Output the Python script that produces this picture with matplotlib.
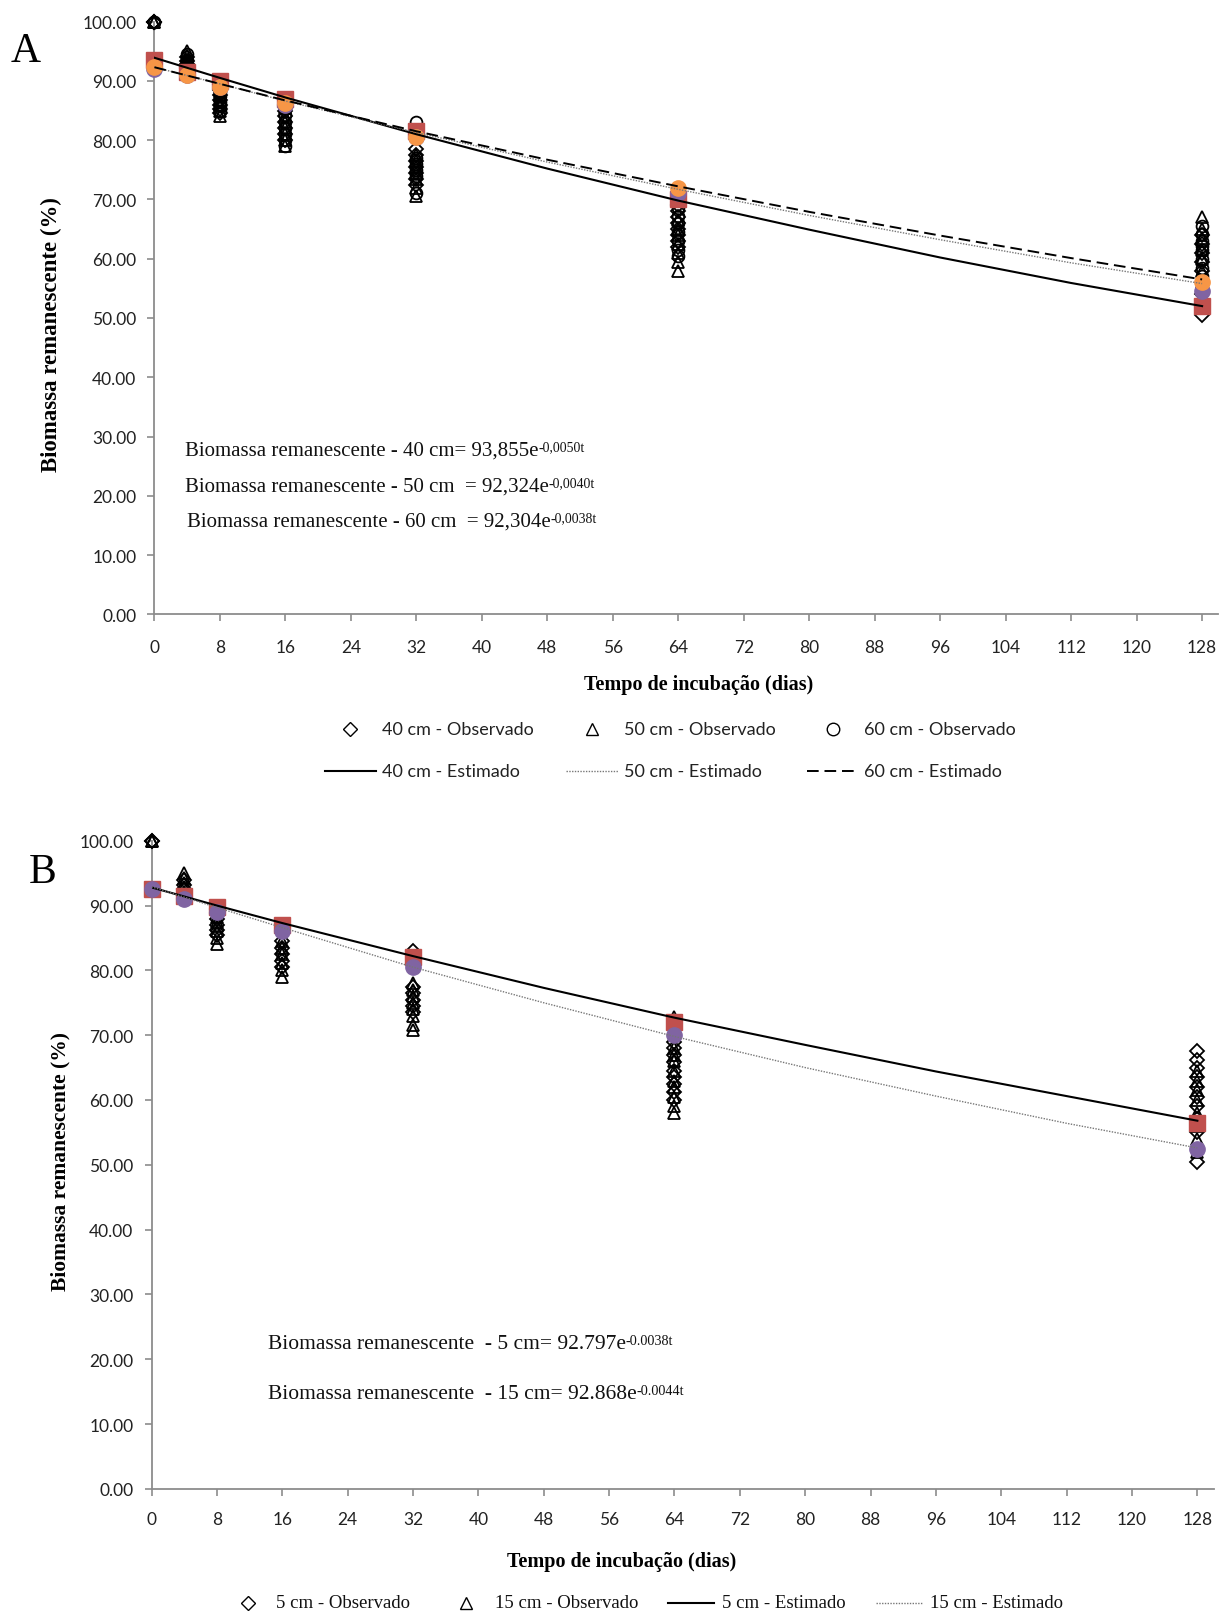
import matplotlib
matplotlib.use("Agg")
import matplotlib.pyplot as plt
from matplotlib.lines import Line2D

# ---------------- data ----------------
times = [0, 4, 8, 16, 32, 64, 128]
fit_t = [0, 4, 8, 16, 32, 48, 64, 80, 96, 112, 128]

# Panel A observations (per time point)
obs40_A = [[100, 100, 100],
           [91.5, 92.2, 92.8, 93.4, 94.0],
           [84.5, 85.3, 86.0, 86.8, 87.6, 88.5, 89.5],
           [80.0, 81.0, 82.0, 83.0, 84.0, 85.0, 86.0],
           [72.5, 73.5, 74.5, 75.5, 76.5, 77.5, 78.5],
           [62.0, 63.0, 64.0, 65.0, 66.0, 67.0, 68.0, 69.0],
           [50.5, 54.0, 58.0, 59.5, 61.0, 62.5, 64.0]]
obs50_A = [[100, 100],
           [92.0, 92.8, 93.5, 94.2, 95.0],
           [84.0, 85.0, 86.0, 86.8, 87.5, 88.2, 89.0],
           [79.0, 80.0, 81.0, 82.0, 83.0, 84.0, 85.5],
           [70.5, 72.0, 73.5, 74.5, 75.5, 76.5, 77.5],
           [58.0, 59.5, 61.0, 62.5, 64.0, 65.0, 66.5],
           [52.0, 56.0, 58.0, 60.0, 61.5, 63.5, 65.0, 67.0]]
obs60_A = [[100, 100],
           [91.0, 92.0, 92.8, 93.5, 94.5],
           [85.0, 85.8, 86.5, 87.5, 88.2, 89.0],
           [79.0, 80.0, 81.0, 82.0, 83.0, 84.2, 85.5],
           [71.0, 74.0, 75.0, 76.0, 77.0, 83.0],
           [60.5, 61.5, 63.0, 64.5, 66.0, 67.2, 68.5, 70.0, 72.0],
           [55.0, 57.0, 58.5, 60.0, 61.5, 62.2, 63.0, 64.2, 65.5]]
mean40_A = [93.5, 91.5, 90.0, 87.0, 81.5, 70.0, 52.0]
mean50_A = [92.0, 91.0, 89.0, 86.0, 80.5, 71.0, 54.5]
mean60_A = [92.3, 91.0, 89.0, 86.2, 80.5, 72.0, 56.0]
est40_A = [93.9, 92.2, 90.5, 87.2, 81.0, 75.2, 69.8, 64.9, 60.2, 55.9, 52.0]
est50_A = [92.3, 90.9, 89.5, 86.6, 81.3, 76.3, 71.7, 67.3, 63.2, 59.3, 55.8]
est60_A = [92.3, 90.9, 89.5, 86.7, 81.5, 76.7, 72.2, 67.9, 63.9, 60.1, 56.5]

# Panel B observations
obs5_B = [[100, 100],
          [91.0, 91.8, 92.5, 93.2, 94.0],
          [85.5, 86.3, 87.0, 88.0, 88.8, 89.5],
          [80.5, 81.5, 82.5, 83.5, 84.5, 86.0],
          [73.5, 74.5, 75.5, 76.5, 77.5, 83.0],
          [60.0, 61.3, 62.5, 63.5, 64.5, 65.8, 67.0, 68.0, 69.0],
          [50.5, 55.0, 57.0, 59.0, 60.5, 62.0, 63.5, 65.0, 66.2, 67.5]]
obs15_B = [[100, 100],
           [92.0, 92.8, 93.5, 94.2, 95.0],
           [84.0, 85.0, 86.0, 86.8, 87.5, 88.3],
           [79.0, 80.0, 81.2, 82.5, 83.5, 84.5],
           [70.8, 71.5, 73.0, 74.0, 75.0, 76.0, 77.0, 78.0],
           [58.0, 59.0, 60.5, 62.0, 63.0, 64.5, 66.0, 67.0, 68.0, 72.8],
           [52.0, 54.0, 56.0, 58.0, 60.0, 61.5, 63.0, 64.5]]
mean5_B = [92.5, 91.5, 89.8, 87.0, 82.0, 72.0, 56.5]
mean15_B = [92.5, 91.0, 89.0, 86.0, 80.5, 70.0, 52.5]
est5_B = [92.8, 91.4, 90.0, 87.3, 82.2, 77.3, 72.7, 68.5, 64.4, 60.6, 56.8]
est15_B = [92.9, 91.3, 89.7, 86.6, 80.5, 75.0, 69.8, 65.0, 60.6, 56.4, 52.6]

xticks = list(range(0, 129, 8))
yticks = list(range(0, 101, 10))

eqA = [("Biomassa remanescente - 40 cm= 93,855e", "-0,0050t"),
       ("Biomassa remanescente - 50 cm  = 92,324e", "-0,0040t"),
       ("Biomassa remanescente - 60 cm  = 92,304e", "-0,0038t")]
eqB = [("Biomassa remanescente  - 5 cm= 92.797e", "-0.0038t"),
       ("Biomassa remanescente  - 15 cm= 92.868e", "-0.0044t")]

# ---------------- style ----------------
RED = "#C0504D"
ORANGE = "#F79646"
PURPLE = "#8064A2"
GREY = "#8C8C8C"
TICKFONT = "Lato"
SERIF = "Liberation Serif"

W, H = 1223, 1615
fig = plt.figure(figsize=(W / 100, H / 100), dpi=100)


def fx(px):
    return px / W


def fy(py):
    return 1 - py / H


def style_axes(ax, xpad):
    ax.set_xlim(0, 130)
    ax.set_ylim(0, 100)
    for s in ["top", "right"]:
        ax.spines[s].set_visible(False)
    for s in ["left", "bottom"]:
        ax.spines[s].set_color(GREY)
        ax.spines[s].set_linewidth(1.3)
    ax.set_xticks(xticks)
    ax.set_yticks(yticks)
    ax.set_yticklabels([f"{v:.2f}" for v in yticks])
    ax.tick_params(axis="both", direction="out", length=5, width=1.2, color=GREY,
                   labelsize=12.5)
    ax.tick_params(axis="x", pad=xpad)
    ax.tick_params(axis="y", pad=8)
    for lab in ax.get_xticklabels() + ax.get_yticklabels():
        lab.set_family(TICKFONT)
        lab.set_color("#222222")


def plot_obs(ax, obs, marker, ms):
    for t, vals in zip(times, obs):
        ax.plot([t] * len(vals), vals, linestyle="none", marker=marker, ms=ms,
                mfc="none", mec="black", mew=1.3, zorder=3, clip_on=False)


def plot_mean(ax, vals, marker, color, ms):
    ax.plot(times, vals, linestyle="none", marker=marker, ms=ms, mfc=color,
            mec=color, zorder=4, clip_on=False)


def add_eq(ax, x, y, main, sup, size):
    t = fig.text(x, y, main, family=SERIF, fontsize=size, va="center", ha="left",
                 color="#111111")
    ax.annotate(sup, xy=(1.0, 1.0), xycoords=t, va="top", ha="left",
                family=SERIF, fontsize=size * 0.66, color="#111111",
                annotation_clip=False)


# ================= Panel A =================
axA = fig.add_axes([0.1263, 0.619, 0.870, 0.367])
style_axes(axA, 13)
plot_mean(axA, mean40_A, "s", RED, 11)
plot_obs(axA, obs40_A, "D", 7)
plot_obs(axA, obs50_A, "^", 8.5)
plot_obs(axA, obs60_A, "o", 8.5)
plot_mean(axA, mean50_A, "o", PURPLE, 11)
plot_mean(axA, mean60_A, "o", ORANGE, 11)
axA.plot(fit_t, est40_A, color="black", lw=1.5, zorder=5)
axA.plot(fit_t, est50_A, color="#777777", lw=1.0, ls=(0, (1, 1)), zorder=5)
axA.plot(fit_t, est60_A, color="black", lw=1.4, ls=(0, (6, 3)), zorder=5)

fig.text(fx(51), fy(335), "Biomassa remanescente (%)", rotation=90, family=SERIF,
         fontweight="bold", fontsize=16.5, ha="center", va="center")
fig.text(fx(699), fy(685), "Tempo de incubação (dias)", family=SERIF,
         fontweight="bold", fontsize=14.5, ha="center", va="center")
fig.text(fx(26), fy(52), "A", family=SERIF, fontsize=30, ha="center", va="center")

for (main, sup), (px, py) in zip(eqA, [(185, 451), (185, 487), (187, 522)]):
    add_eq(axA, fx(px), fy(py), main, sup, 15)

# legend A (manual)
LEGF = "Lato"
legA_rows = [
    [("marker", "D", 350, "40 cm - Observado", 382),
     ("marker", "^", 592, "50 cm - Observado", 624),
     ("marker", "o", 833, "60 cm - Observado", 864)],
    [("line", "-", (325, 376), "40 cm - Estimado", 382),
     ("line", ":", (566, 618), "50 cm - Estimado", 624),
     ("line", "--", (807, 855), "60 cm - Estimado", 864)],
]
for row, py in zip(legA_rows, [730, 772]):
    for kind, st, pos, label, tx in row:
        if kind == "marker":
            ms = 7 if st == "D" else 9
            fig.add_artist(Line2D([fx(pos)], [fy(py)], marker=st, ms=ms, mfc="none",
                                  mec="black", mew=1.0, linestyle="none",
                                  transform=fig.transFigure))
        else:
            if st == "-":
                kw = dict(color="black", lw=1.5)
            elif st == ":":
                kw = dict(color="#777777", lw=1.0, ls=(0, (1, 1)))
            else:
                kw = dict(color="black", lw=1.4, ls=(0, (6, 3)))
            fig.add_artist(Line2D([fx(pos[0]), fx(pos[1])], [fy(py), fy(py)],
                                  transform=fig.transFigure, **kw))
        fig.text(fx(tx), fy(py), label, family=LEGF, fontsize=13, va="center",
                 ha="left", color="#222222")

# ================= Panel B =================
axB = fig.add_axes([0.1239, 0.0775, 0.8685, 0.4013])
style_axes(axB, 11)
plot_mean(axB, mean5_B, "s", RED, 11)
plot_obs(axB, obs5_B, "D", 7)
plot_obs(axB, obs15_B, "^", 8.5)
plot_mean(axB, mean15_B, "o", PURPLE, 11)
axB.plot(fit_t, est5_B, color="black", lw=1.5, zorder=5)
axB.plot(fit_t, est15_B, color="#777777", lw=1.0, ls=(0, (1, 1)), zorder=5)

fig.text(fx(60), fy(1162), "Biomassa remanescente (%)", rotation=90, family=SERIF,
         fontweight="bold", fontsize=15.5, ha="center", va="center")
fig.text(fx(622), fy(1562), "Tempo de incubação (dias)", family=SERIF,
         fontweight="bold", fontsize=14.5, ha="center", va="center")
fig.text(fx(43), fy(873), "B", family=SERIF, fontsize=30, ha="center", va="center")

for (main, sup), (px, py) in zip(eqB, [(268, 1345), (268, 1395)]):
    add_eq(axB, fx(px), fy(py), main, sup, 15.5)

legB = [("marker", "D", 248, "5 cm - Observado", 276),
        ("marker", "^", 466, "15 cm - Observado", 495),
        ("line", "-", (668, 714), "5 cm - Estimado", 722),
        ("line", ":", (876, 922), "15 cm - Estimado", 930)]
py = 1604
for kind, st, pos, label, tx in legB:
    if kind == "marker":
        ms = 7 if st == "D" else 9
        fig.add_artist(Line2D([fx(pos)], [fy(py)], marker=st, ms=ms, mfc="none",
                              mec="black", mew=1.0, linestyle="none",
                              transform=fig.transFigure))
    else:
        if st == "-":
            kw = dict(color="black", lw=1.5)
        else:
            kw = dict(color="#777777", lw=1.0, ls=(0, (1, 1)))
        fig.add_artist(Line2D([fx(pos[0]), fx(pos[1])], [fy(py), fy(py)],
                              transform=fig.transFigure, **kw))
    fig.text(fx(tx), fy(py), label, family=SERIF, fontsize=13.5, va="center",
             ha="left", color="#111111")

fig.savefig("out.png", dpi=100)
